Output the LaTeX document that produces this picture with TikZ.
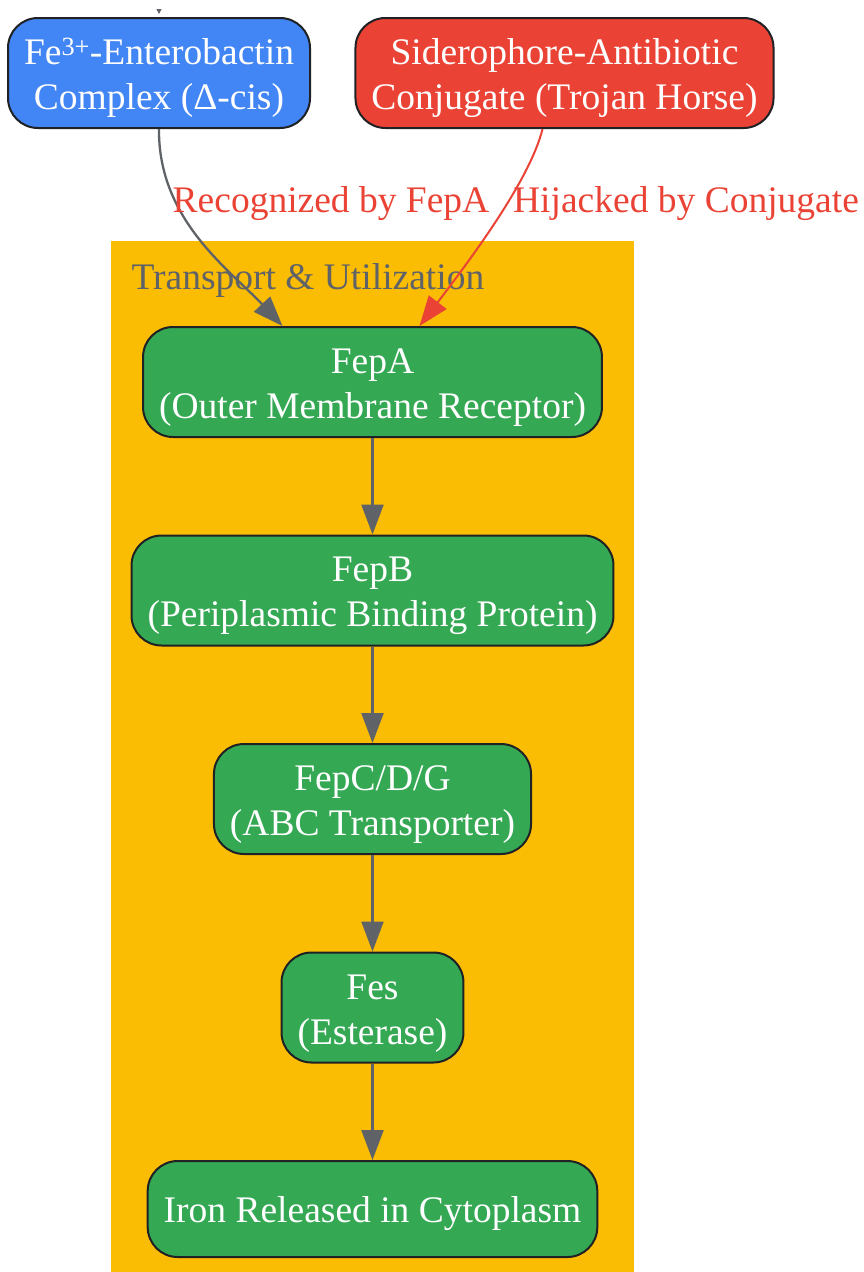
\documentclass[tikz,border=0pt]{standalone}
\usepackage{fontspec}
\setmainfont{Liberation Serif}
\usetikzlibrary{positioning,arrows.meta}
\definecolor{gblue}{HTML}{4285F4}
\definecolor{gred}{HTML}{EA4335}
\definecolor{ggreen}{HTML}{34A853}
\definecolor{gyellow}{HTML}{FBBC04}
\definecolor{ggray}{HTML}{5F6368}
\definecolor{gborder}{HTML}{202124}
\newcommand{\topstrut}{\rule{0pt}{36pt}}
\tikzstyle{every node}=[font=\fontsize{37.5}{45}\selectfont]
\tikzstyle{box}=[draw=gborder, line width=2pt, rounded corners=30pt, text=white, align=center, inner xsep=16pt, inner ysep=8pt, minimum height=110pt]
\tikzstyle{protein}=[box, fill=ggreen]
\tikzstyle{flow}=[draw=ggray, line width=2.3pt, -{Triangle[length=30pt,width=22pt]}]
\tikzstyle{hijack}=[flow, draw=gred, line width=2pt]
\tikzstyle{edgelabel}=[text=gred]

\begin{document}
\begin{tikzpicture}[x=1pt,y=-1pt]
  \useasboundingbox (0,0) rectangle (863,1272);
  \fill[gyellow] (111,241) rectangle (634,1272);
  \node[anchor=west, text=ggray] (cluster) at (128,280) {Transport \& Utilization};

  \node[box, fill=gblue] (enterobactin) at (159,73) {\topstrut Fe\textsuperscript{3+}-Enterobactin\\Complex (Δ-cis)};
  \node[box, fill=gred] (conjugate) at (564.5,73) {\topstrut Siderophore-Antibiotic\\Conjugate (Trojan Horse)};

  \node[protein] (fepa) at (372.5,382) {\topstrut FepA\\(Outer Membrane Receptor)};
  \node[protein, below=96.5pt of fepa] (fepb) {\topstrut FepB\\(Periplasmic Binding Protein)};
  \node[protein, below=96.5pt of fepb] (fepcdg) {\topstrut FepC/D/G\\(ABC Transporter)};
  \node[protein, below=96.5pt of fepcdg] (fes) {\topstrut Fes\\(Esterase)};
  \node[protein, below=96.5pt of fes, minimum height=96pt] (iron) {\topstrut Iron Released in Cytoplasm};

  \coordinate (source) at (159,9);
  \draw[draw=ggray, line width=1pt, shorten >=3pt, -{Triangle[length=5pt,width=5pt]}] (source) -- (enterobactin.north);

  \draw[flow] (enterobactin.south) .. controls (158,220) and (230,270) .. ([xshift=-90pt]fepa.north);
  \draw[hijack] ([xshift=-22pt]conjugate.south) .. controls (530,180) and (470,260) .. ([xshift=47pt]fepa.north);
  \node[edgelabel] (recognized) at (331,204) {Recognized by FepA};
  \node[edgelabel] (hijacked) at (686,204) {Hijacked by Conjugate};

  \draw[flow] (fepa) -- (fepb);
  \draw[flow] (fepb) -- (fepcdg);
  \draw[flow] (fepcdg) -- (fes);
  \draw[flow] (fes) -- (iron);
\end{tikzpicture}
\end{document}
